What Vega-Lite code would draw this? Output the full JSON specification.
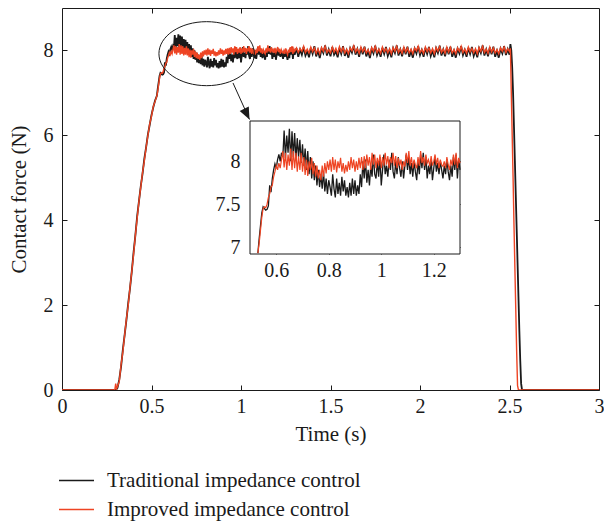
{
"$schema": "https://vega.github.io/schema/vega-lite/v6.json",
"width": 537, "height": 382,
"autosize": {"type": "none"},
"padding": {"left": 62, "top": 8, "right": 5, "bottom": 136},
"background": "white",
"config": {
 "font": "Liberation Serif",
 "view": {"stroke": "#1a1a1a", "strokeWidth": 1},
 "axis": {"domain": false, "grid": false, "tickColor": "#1a1a1a", "tickSize": -5, "tickWidth": 1, "labelColor": "#1a1a1a", "labelFont": "Liberation Serif", "labelFontSize": 20, "titleFont": "Liberation Serif", "titleFontSize": 21, "titleFontWeight": "normal", "titleColor": "#1a1a1a", "labelFlush": false, "labelOverlap": false, "labelBound": false, "zindex": 1}
},
"datasets": {
 "sig": [
{"t":0,"a":0,"b":0},{"t":0.295,"a":0,"b":0},{"t":0.3,"a":0,"b":0.15},{"t":0.305,"a":0.02,"b":0.03},{"t":0.31,"a":0.05,"b":0.08},
{"t":0.32,"a":0.25,"b":0.2},{"t":0.33,"a":0.55,"b":0.6},{"t":0.34,"a":0.95,"b":0.9},{"t":0.35,"a":1.3,"b":1.3},{"t":0.36,"a":1.65,"b":1.68},
{"t":0.37,"a":2.05,"b":2.0},{"t":0.38,"a":2.4,"b":2.42},{"t":0.39,"a":2.8,"b":2.8},{"t":0.4,"a":3.25,"b":3.2},{"t":0.41,"a":3.65,"b":3.65},
{"t":0.42,"a":4.1,"b":4.05},{"t":0.43,"a":4.45,"b":4.45},{"t":0.44,"a":4.8,"b":4.78},{"t":0.45,"a":5.1,"b":5.12},{"t":0.46,"a":5.45,"b":5.4},
{"t":0.47,"a":5.72,"b":5.72},{"t":0.48,"a":6.02,"b":6.0},{"t":0.49,"a":6.25,"b":6.27},{"t":0.5,"a":6.48,"b":6.45},{"t":0.51,"a":6.66,"b":6.68},
{"t":0.52,"a":6.82,"b":6.8},{"t":0.53,"a":6.93,"b":6.93},
{"t":0.535,"a":7.1,"b":7.05},{"t":0.54,"a":7.25,"b":7.2},{"t":0.545,"a":7.4,"b":7.35},{"t":0.55,"a":7.47,"b":7.45},{"t":0.555,"a":7.45,"b":7.47},
{"t":0.56,"a":7.43,"b":7.46},{"t":0.565,"a":7.44,"b":7.5},{"t":0.57,"a":7.48,"b":7.58},{"t":0.575,"a":7.72,"b":7.62},{"t":0.58,"a":7.64,"b":7.7},
{"t":0.585,"a":7.8,"b":7.72},{"t":0.59,"a":7.9,"b":7.82},{"t":0.595,"a":7.97,"b":7.88},{"t":0.6,"a":7.92,"b":7.95},{"t":0.605,"a":8.02,"b":7.9},
{"t":0.61,"a":8.08,"b":7.98},{"t":0.615,"a":8.0,"b":7.92},{"t":0.62,"a":8.1,"b":8.02},{"t":0.625,"a":8.05,"b":8.12},{"t":0.63,"a":8.36,"b":7.93},
{"t":0.635,"a":8.04,"b":8.1},{"t":0.64,"a":8.3,"b":7.9},{"t":0.645,"a":8.1,"b":8.08},{"t":0.65,"a":8.38,"b":7.95},{"t":0.655,"a":8.0,"b":8.15},
{"t":0.66,"a":8.35,"b":7.9},{"t":0.665,"a":8.05,"b":8.12},{"t":0.67,"a":8.33,"b":7.92},{"t":0.675,"a":8.02,"b":8.1},{"t":0.68,"a":8.27,"b":7.88},
{"t":0.685,"a":8.05,"b":8.06},{"t":0.69,"a":8.25,"b":7.9},{"t":0.695,"a":7.98,"b":8.1},{"t":0.7,"a":8.2,"b":7.88},{"t":0.705,"a":7.95,"b":8.05},
{"t":0.71,"a":8.15,"b":7.84},{"t":0.715,"a":7.9,"b":8.02},{"t":0.72,"a":8.12,"b":7.83},{"t":0.725,"a":7.85,"b":8.0},{"t":0.73,"a":8.05,"b":7.9},
{"t":0.735,"a":7.8,"b":8.04},{"t":0.74,"a":8.0,"b":7.85},{"t":0.745,"a":7.78,"b":7.98},{"t":0.75,"a":7.95,"b":7.82},{"t":0.755,"a":7.72,"b":7.95},
{"t":0.76,"a":7.9,"b":7.8},{"t":0.765,"a":7.7,"b":7.9},{"t":0.77,"a":7.85,"b":7.78},{"t":0.775,"a":7.68,"b":7.95},{"t":0.78,"a":7.88,"b":7.82},
{"t":0.785,"a":7.65,"b":7.98},{"t":0.79,"a":7.8,"b":7.86},{"t":0.795,"a":7.62,"b":8.0},{"t":0.8,"a":7.78,"b":7.9},{"t":0.805,"a":7.7,"b":8.02},
{"t":0.81,"a":7.6,"b":7.88},{"t":0.815,"a":7.85,"b":8.05},{"t":0.82,"a":7.68,"b":7.9},{"t":0.825,"a":7.58,"b":8.02},{"t":0.83,"a":7.8,"b":7.87},
{"t":0.835,"a":7.62,"b":8.0},{"t":0.84,"a":7.75,"b":7.92},{"t":0.845,"a":7.6,"b":8.04},{"t":0.85,"a":7.82,"b":7.88},{"t":0.855,"a":7.65,"b":7.98},
{"t":0.86,"a":7.78,"b":7.86},{"t":0.865,"a":7.6,"b":7.96},{"t":0.87,"a":7.7,"b":7.88},{"t":0.875,"a":7.58,"b":8.0},{"t":0.88,"a":7.75,"b":7.9},
{"t":0.885,"a":7.6,"b":8.05},{"t":0.89,"a":7.8,"b":7.92},{"t":0.895,"a":7.62,"b":8.02},{"t":0.9,"a":7.78,"b":7.88},{"t":0.905,"a":7.6,"b":8.0},
{"t":0.91,"a":7.72,"b":7.9},{"t":0.915,"a":7.62,"b":8.04},{"t":0.92,"a":7.85,"b":7.92},{"t":0.925,"a":7.7,"b":8.05},{"t":0.93,"a":8.0,"b":7.9},
{"t":0.935,"a":7.8,"b":8.06},{"t":0.94,"a":8.02,"b":7.92},{"t":0.945,"a":7.75,"b":8.08},{"t":0.95,"a":7.9,"b":7.95},{"t":0.955,"a":7.72,"b":8.05},
{"t":0.96,"a":7.95,"b":7.9},{"t":0.965,"a":7.82,"b":8.1},{"t":0.97,"a":8.08,"b":7.96},{"t":0.975,"a":7.85,"b":8.08},{"t":0.98,"a":7.8,"b":7.92},
{"t":0.985,"a":8.0,"b":8.04},{"t":0.99,"a":7.82,"b":7.95},{"t":0.995,"a":8.05,"b":8.08},{"t":1.0,"a":7.72,"b":7.92},{"t":1.005,"a":7.9,"b":8.05},
{"t":1.01,"a":8.08,"b":7.95},{"t":1.015,"a":7.85,"b":8.1},{"t":1.02,"a":7.95,"b":7.96},{"t":1.025,"a":7.82,"b":8.06},{"t":1.03,"a":8.02,"b":7.92},
{"t":1.035,"a":7.9,"b":8.05},{"t":1.04,"a":8.1,"b":7.98},{"t":1.045,"a":7.88,"b":8.1},{"t":1.05,"a":7.8,"b":7.95},{"t":1.055,"a":8.0,"b":8.06},
{"t":1.06,"a":7.85,"b":7.92},{"t":1.065,"a":8.05,"b":8.04},{"t":1.07,"a":7.92,"b":7.95},{"t":1.075,"a":7.82,"b":8.02},{"t":1.08,"a":8.0,"b":7.9},
{"t":1.085,"a":7.8,"b":8.0},{"t":1.09,"a":7.95,"b":7.94},{"t":1.095,"a":8.08,"b":8.1},{"t":1.1,"a":7.9,"b":7.98},{"t":1.105,"a":8.05,"b":8.12},
{"t":1.11,"a":7.85,"b":7.95},{"t":1.115,"a":7.98,"b":8.05},{"t":1.12,"a":7.82,"b":7.92},{"t":1.125,"a":8.0,"b":8.02},{"t":1.13,"a":7.88,"b":7.96},
{"t":1.135,"a":7.78,"b":7.92},{"t":1.14,"a":8.0,"b":8.05},{"t":1.145,"a":7.85,"b":7.95},{"t":1.15,"a":8.08,"b":8.12},{"t":1.155,"a":7.92,"b":7.98},
{"t":1.16,"a":8.1,"b":8.05},{"t":1.165,"a":7.9,"b":7.95},{"t":1.17,"a":8.05,"b":8.08},{"t":1.175,"a":7.8,"b":7.98},{"t":1.18,"a":7.95,"b":8.02},
{"t":1.185,"a":7.85,"b":7.94},{"t":1.19,"a":8.02,"b":8.06},{"t":1.195,"a":7.78,"b":7.95},{"t":1.2,"a":7.92,"b":8.0},{"t":1.205,"a":8.05,"b":8.08},
{"t":1.21,"a":7.88,"b":7.96},{"t":1.215,"a":7.98,"b":8.04},{"t":1.22,"a":7.85,"b":7.92},{"t":1.225,"a":8.0,"b":8.02},{"t":1.23,"a":7.9,"b":7.96},
{"t":1.235,"a":7.8,"b":7.94},{"t":1.24,"a":7.95,"b":8.0},{"t":1.245,"a":7.85,"b":7.92},{"t":1.25,"a":8.02,"b":8.05},{"t":1.255,"a":7.88,"b":7.96},
{"t":1.26,"a":7.78,"b":7.9},{"t":1.265,"a":7.95,"b":8.02},{"t":1.27,"a":7.82,"b":7.95},{"t":1.275,"a":8.05,"b":8.08},{"t":1.28,"a":7.9,"b":7.96},
{"t":1.285,"a":8.08,"b":8.1},{"t":1.29,"a":7.8,"b":7.92},{"t":1.295,"a":8.02,"b":8.04},{"t":1.3,"a":7.9,"b":7.98},
{"t":1.31,"a":8.05,"b":8.06},{"t":1.32,"a":7.85,"b":7.95},{"t":1.33,"a":8.02,"b":8.04},{"t":1.34,"a":7.9,"b":7.98},{"t":1.35,"a":8.08,"b":8.1},
{"t":1.36,"a":7.88,"b":7.95},{"t":1.37,"a":7.98,"b":8.03},{"t":1.38,"a":7.84,"b":7.94},{"t":1.39,"a":8.06,"b":8.08},{"t":1.4,"a":7.92,"b":7.97},
{"t":1.41,"a":8.1,"b":8.06},{"t":1.42,"a":7.86,"b":7.93},{"t":1.43,"a":8.0,"b":8.04},{"t":1.44,"a":7.82,"b":7.92},{"t":1.45,"a":8.04,"b":8.07},
{"t":1.46,"a":7.94,"b":7.98},{"t":1.47,"a":8.12,"b":8.1},{"t":1.48,"a":7.88,"b":7.95},{"t":1.49,"a":8.02,"b":8.02},{"t":1.5,"a":7.86,"b":7.94},
{"t":1.51,"a":8.08,"b":8.08},{"t":1.52,"a":7.9,"b":7.96},{"t":1.53,"a":7.98,"b":8.05},{"t":1.54,"a":7.84,"b":7.93},{"t":1.55,"a":8.06,"b":8.09},
{"t":1.56,"a":7.92,"b":7.97},{"t":1.57,"a":8.1,"b":8.07},{"t":1.58,"a":7.87,"b":7.94},{"t":1.59,"a":8.0,"b":8.03},{"t":1.6,"a":7.83,"b":7.92},
{"t":1.61,"a":8.05,"b":8.06},{"t":1.62,"a":7.95,"b":7.99},{"t":1.63,"a":8.12,"b":8.11},{"t":1.64,"a":7.9,"b":7.96},{"t":1.65,"a":8.03,"b":8.04},
{"t":1.66,"a":7.85,"b":7.93},{"t":1.67,"a":8.07,"b":8.08},{"t":1.68,"a":7.91,"b":7.97},{"t":1.69,"a":8.09,"b":8.06},{"t":1.7,"a":7.86,"b":7.94},
{"t":1.71,"a":7.99,"b":8.02},{"t":1.72,"a":7.82,"b":7.91},{"t":1.73,"a":8.04,"b":8.07},{"t":1.74,"a":7.93,"b":7.98},{"t":1.75,"a":8.11,"b":8.1},
{"t":1.76,"a":7.89,"b":7.95},{"t":1.77,"a":8.01,"b":8.03},{"t":1.78,"a":7.85,"b":7.93},{"t":1.79,"a":8.06,"b":8.08},{"t":1.8,"a":7.92,"b":7.97},
{"t":1.81,"a":8.08,"b":8.05},{"t":1.82,"a":7.87,"b":7.94},{"t":1.83,"a":8.0,"b":8.04},{"t":1.84,"a":7.84,"b":7.92},{"t":1.85,"a":8.05,"b":8.07},
{"t":1.86,"a":7.94,"b":7.98},{"t":1.87,"a":8.12,"b":8.1},{"t":1.88,"a":7.88,"b":7.95},{"t":1.89,"a":8.02,"b":8.03},{"t":1.9,"a":7.86,"b":7.93},
{"t":1.91,"a":8.07,"b":8.08},{"t":1.92,"a":7.91,"b":7.96},{"t":1.93,"a":8.09,"b":8.06},{"t":1.94,"a":7.85,"b":7.94},{"t":1.95,"a":7.99,"b":8.03},
{"t":1.96,"a":7.83,"b":7.92},{"t":1.97,"a":8.04,"b":8.06},{"t":1.98,"a":7.93,"b":7.99},{"t":1.99,"a":8.1,"b":8.1},{"t":2.0,"a":7.89,"b":7.95},
{"t":2.01,"a":8.01,"b":8.02},{"t":2.02,"a":7.85,"b":7.93},{"t":2.03,"a":8.06,"b":8.08},{"t":2.04,"a":7.92,"b":7.97},{"t":2.05,"a":8.08,"b":8.06},
{"t":2.06,"a":7.87,"b":7.94},{"t":2.07,"a":8.0,"b":8.04},{"t":2.08,"a":7.84,"b":7.92},{"t":2.09,"a":8.05,"b":8.07},{"t":2.1,"a":7.94,"b":7.98},
{"t":2.11,"a":8.11,"b":8.09},{"t":2.12,"a":7.88,"b":7.95},{"t":2.13,"a":8.02,"b":8.03},{"t":2.14,"a":7.86,"b":7.93},{"t":2.15,"a":8.07,"b":8.08},
{"t":2.16,"a":7.91,"b":7.96},{"t":2.17,"a":8.09,"b":8.07},{"t":2.18,"a":7.85,"b":7.94},{"t":2.19,"a":7.99,"b":8.02},{"t":2.2,"a":7.83,"b":7.92},
{"t":2.21,"a":8.04,"b":8.06},{"t":2.22,"a":7.93,"b":7.98},{"t":2.23,"a":8.1,"b":8.1},{"t":2.24,"a":7.89,"b":7.95},{"t":2.25,"a":8.01,"b":8.03},
{"t":2.26,"a":7.85,"b":7.93},{"t":2.27,"a":8.06,"b":8.08},{"t":2.28,"a":7.92,"b":7.97},{"t":2.29,"a":8.08,"b":8.05},{"t":2.3,"a":7.87,"b":7.94},
{"t":2.31,"a":8.0,"b":8.04},{"t":2.32,"a":7.84,"b":7.92},{"t":2.33,"a":8.05,"b":8.07},{"t":2.34,"a":7.94,"b":7.98},{"t":2.35,"a":8.12,"b":8.1},
{"t":2.36,"a":7.88,"b":7.95},{"t":2.37,"a":8.02,"b":8.03},{"t":2.38,"a":7.86,"b":7.93},{"t":2.39,"a":8.07,"b":8.08},{"t":2.4,"a":7.91,"b":7.96},
{"t":2.41,"a":8.09,"b":8.06},{"t":2.42,"a":7.85,"b":7.94},{"t":2.43,"a":7.99,"b":8.02},{"t":2.44,"a":7.83,"b":7.92},{"t":2.45,"a":8.04,"b":8.06},
{"t":2.46,"a":7.93,"b":7.98},{"t":2.47,"a":8.1,"b":8.08},{"t":2.48,"a":7.89,"b":7.95},{"t":2.49,"a":8.03,"b":8.04},{"t":2.5,"a":7.9,"b":7.97},
{"t":2.505,"a":8.15,"b":8.05},{"t":2.51,"a":8.0,"b":7.0},{"t":2.515,"a":7.6,"b":6.0},{"t":2.52,"a":7.0,"b":5.0},{"t":2.525,"a":6.2,"b":3.9},
{"t":2.53,"a":5.4,"b":2.9},{"t":2.535,"a":4.6,"b":1.9},{"t":2.54,"a":3.8,"b":0.9},{"t":2.545,"a":3.0,"b":0.1},{"t":2.55,"a":2.2,"b":0},
{"t":2.555,"a":1.4,"b":0},{"t":2.56,"a":0.7,"b":0},{"t":2.565,"a":0.15,"b":0},{"t":2.57,"a":0,"b":0},{"t":3.0,"a":0,"b":0}
 ],
 "box": [{"x":0.5,"x2":1.3,"y":6.92,"y2":8.47}],
 "ell": [{"t":0.808,"v":7.924}],
 "arrow": [{"t1":0.9553,"v1":7.234,"t2":1.0475,"v2":6.374}]
},
"resolve": {"scale": {"x": "independent", "y": "independent"}, "axis": {"x": "independent", "y": "independent"}},
"layer": [
 {
  "data": {"name": "sig"},
  "mark": {"type": "line", "strokeWidth": 1.8, "clip": true},
  "encoding": {
   "x": {"field": "t", "type": "quantitative", "scale": {"domain": [0, 3], "nice": false, "zero": false},
     "axis": {"orient": "bottom", "values": [0, 0.5, 1, 1.5, 2, 2.5, 3], "labelExpr": "'' + datum.value", "labelPadding": 11, "title": "Time (s)", "titlePadding": 7}},
   "y": {"field": "a", "type": "quantitative", "scale": {"domain": [0, 9], "nice": false, "zero": false},
     "axis": {"orient": "left", "values": [0, 2, 4, 6, 8], "labelExpr": "'' + datum.value", "labelPadding": 14, "title": "Contact force (N)", "titlePadding": 14}},
   "color": {"datum": "Traditional impedance control", "type": "nominal",
     "scale": {"domain": ["Traditional impedance control", "Improved impedance control"], "range": ["#1a1a1a", "#ee4423"]},
     "legend": {"orient": "none", "legendX": -4, "legendY": 454, "title": null, "symbolType": "stroke", "symbolSize": 1225, "symbolStrokeWidth": 1.5, "labelFontSize": 21, "labelFont": "Liberation Serif", "labelColor": "#1a1a1a", "labelOffset": 12, "labelLimit": 0, "rowPadding": -1, "padding": 0}}
  }
 },
 {
  "data": {"name": "sig"},
  "mark": {"type": "line", "strokeWidth": 1.4, "clip": true},
  "encoding": {
   "x": {"field": "t", "type": "quantitative", "scale": {"domain": [0, 3], "nice": false, "zero": false}, "axis": null},
   "y": {"field": "b", "type": "quantitative", "scale": {"domain": [0, 9], "nice": false, "zero": false}, "axis": null},
   "color": {"datum": "Improved impedance control", "type": "nominal"}
  }
 },
 {
  "data": {"name": "ell"},
  "mark": {"type": "point", "shape": "M-1,0A1,0.671 0 1,1 1,0A1,0.671 0 1,1 -1,0Z", "size": 9101, "filled": false, "stroke": "#1a1a1a", "strokeWidth": 1, "opacity": 1},
  "encoding": {
   "x": {"field": "t", "type": "quantitative", "scale": {"domain": [0, 3], "nice": false, "zero": false},
     "axis": {"orient": "top", "values": [0.5, 1, 1.5, 2, 2.5], "labels": false, "title": null}},
   "y": {"field": "v", "type": "quantitative", "scale": {"domain": [0, 9], "nice": false, "zero": false},
     "axis": {"orient": "right", "values": [2, 4, 6, 8], "labels": false, "title": null}}
  }
 },
 {
  "data": {"name": "box"},
  "mark": {"type": "rect", "fill": "white", "stroke": "#1a1a1a", "strokeWidth": 1},
  "encoding": {
   "x": {"field": "x", "type": "quantitative", "scale": {"domain": [-0.2162, 1.8295], "nice": false, "zero": false},
     "axis": {"orient": "top", "offset": -113, "values": [0.6, 0.8, 1, 1.2], "labels": false, "title": null}},
   "x2": {"field": "x2"},
   "y": {"field": "y", "type": "quantitative", "scale": {"domain": [5.335, 9.787], "nice": false, "zero": false},
     "axis": {"orient": "right", "offset": -139, "values": [7, 7.5, 8], "labels": false, "title": null}},
   "y2": {"field": "y2"}
  }
 },
 {
  "data": {"name": "sig"},
  "transform": [{"filter": "datum.t >= 0.53 && datum.t <= 1.3"}],
  "mark": {"type": "line", "strokeWidth": 1.3},
  "encoding": {
   "x": {"field": "t", "type": "quantitative", "scale": {"domain": [-0.2162, 1.8295], "nice": false, "zero": false},
     "axis": {"orient": "bottom", "offset": -136, "values": [0.6, 0.8, 1, 1.2], "labelExpr": "'' + datum.value", "labelPadding": 11, "title": null}},
   "y": {"field": "a", "type": "quantitative", "scale": {"domain": [5.335, 9.787], "nice": false, "zero": false},
     "axis": {"orient": "left", "offset": -188, "values": [7, 7.5, 8], "labelExpr": "'' + datum.value", "labelPadding": 15, "title": null}},
   "color": {"value": "#1a1a1a"}
  }
 },
 {
  "data": {"name": "sig"},
  "transform": [{"filter": "datum.t >= 0.53 && datum.t <= 1.3"}],
  "mark": {"type": "line", "strokeWidth": 1.2},
  "encoding": {
   "x": {"field": "t", "type": "quantitative", "scale": {"domain": [-0.2162, 1.8295], "nice": false, "zero": false}, "axis": null},
   "y": {"field": "b", "type": "quantitative", "scale": {"domain": [5.335, 9.787], "nice": false, "zero": false}, "axis": null},
   "color": {"value": "#ee4423"}
  }
 },
 {
  "data": {"name": "arrow"},
  "mark": {"type": "rule", "stroke": "#1a1a1a", "strokeWidth": 1},
  "encoding": {
   "x": {"field": "t1", "type": "quantitative", "scale": {"domain": [0, 3], "nice": false, "zero": false}, "axis": null},
   "x2": {"field": "t2"},
   "y": {"field": "v1", "type": "quantitative", "scale": {"domain": [0, 9], "nice": false, "zero": false}, "axis": null},
   "y2": {"field": "v2"}
  }
 },
 {
  "data": {"name": "arrow"},
  "mark": {"type": "point", "shape": "M0,0L-0.42,-1L0.42,-1Z", "size": 576, "filled": true, "color": "#1a1a1a", "opacity": 1, "angle": 334},
  "encoding": {
   "x": {"field": "t2", "type": "quantitative", "scale": {"domain": [0, 3], "nice": false, "zero": false}, "axis": null},
   "y": {"field": "v2", "type": "quantitative", "scale": {"domain": [0, 9], "nice": false, "zero": false}, "axis": null}
  }
 }
]
}
